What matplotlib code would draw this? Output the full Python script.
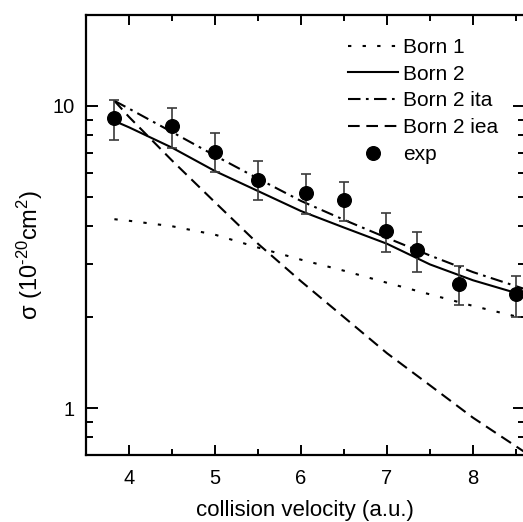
import matplotlib
matplotlib.use("Agg")
import matplotlib.pyplot as plt
from matplotlib.ticker import FixedLocator, MultipleLocator, NullFormatter, FixedFormatter

plt.rcParams['font.family'] = ['Liberation Sans', 'DejaVu Sans']
plt.rcParams['mathtext.fontset'] = 'custom'
plt.rcParams['mathtext.rm'] = 'Liberation Sans'
plt.rcParams['mathtext.it'] = 'Liberation Sans'

# ---- data ----
v_theory = [3.83, 4.0, 4.5, 5.0, 5.5, 6.0, 6.5, 7.0, 7.5, 8.0, 8.6]
born1 = [4.22, 4.17, 4.00, 3.75, 3.40, 3.10, 2.85, 2.60, 2.38, 2.18, 1.98]
born2 = [8.92, 8.50, 7.28, 6.09, 5.23, 4.49, 3.96, 3.50, 2.99, 2.65, 2.36]
born2_ita = [10.4, 9.8, 8.2, 6.85, 5.75, 4.85, 4.20, 3.66, 3.20, 2.82, 2.48]
born2_iea = [10.4, 9.2, 6.6, 4.8, 3.5, 2.63, 2.00, 1.52, 1.19, 0.93, 0.716]

v_exp = [3.83, 4.50, 5.00, 5.50, 6.06, 6.50, 6.99, 7.35, 7.84, 8.50]
sig_exp = [9.1, 8.58, 7.06, 5.71, 5.16, 4.87, 3.87, 3.33, 2.58, 2.38]
err_lo = [1.36, 1.30, 1.02, 0.84, 0.76, 0.72, 0.58, 0.50, 0.38, 0.37]
err_hi = [1.37, 1.30, 1.08, 0.88, 0.78, 0.73, 0.57, 0.50, 0.37, 0.36]

x_ticks = [4, 5, 6, 7, 8]
y_ticks = [1, 10]
y_ticklabels = ['1', '10']

fig = plt.figure(figsize=(5.23, 5.22), dpi=100)
ax = fig.add_axes([86/523, 67/522, 438.6/523, 440/522])

lw = 1.5
ax.plot(v_theory, born1, color='black', lw=lw, linestyle=(0, (1.6, 5.4)), label='Born 1')
ax.plot(v_theory, born2, color='black', lw=lw, linestyle='-', label='Born 2')
ax.plot(v_theory, born2_ita, color='black', lw=lw, linestyle=(0, (6.0, 2.6, 1.3, 2.6)), label='Born 2 ita')
ax.plot(v_theory, born2_iea, color='black', lw=lw, linestyle=(0, (5.6, 3.2)), label='Born 2 iea')
ax.errorbar(v_exp, sig_exp, yerr=[err_lo, err_hi], fmt='none',
            ecolor='#3a3a3a', elinewidth=1.2, capsize=3.5, capthick=1.2)
ax.plot(v_exp, sig_exp, 'o', color='black', ms=9.8, label='exp')

ax.set_yscale('log')
ax.set_xlim(3.5, 8.6)
ax.set_ylim(0.7, 20)

ax.xaxis.set_major_locator(FixedLocator(x_ticks))
ax.xaxis.set_minor_locator(MultipleLocator(0.5))
ax.yaxis.set_major_locator(FixedLocator(y_ticks))
ax.yaxis.set_major_formatter(FixedFormatter(y_ticklabels))
ax.yaxis.set_minor_locator(FixedLocator([0.7, 0.8, 0.9, 2, 3, 4, 5, 6, 7, 8, 9]))
ax.yaxis.set_minor_formatter(NullFormatter())

for s in ax.spines.values():
    s.set_linewidth(1.6)

ax.tick_params(axis='both', which='both', direction='in', top=True, right=True,
               labelsize=14.5, width=1.4)
ax.tick_params(axis='y', which='major', length=8.5, pad=8)
ax.tick_params(axis='y', which='minor', length=5)
ax.tick_params(axis='x', which='major', length=7, pad=10)
ax.tick_params(axis='x', which='minor', length=4.5)

fig.text(305/523, 1 - 516/522, 'collision velocity (a.u.)', ha='center', va='baseline',
         fontsize=16)
fig.text(30/523, 1 - 255/522, r'σ (10$^{\text{-20}}$cm$^{2}$)', rotation=90,
         ha='center', va='center', fontsize=17)

leg = ax.legend(loc='upper left', bbox_to_anchor=((348-86)/438.6, (455-38)/440),
                frameon=False, fontsize=15, handlelength=2.4, handletextpad=0.24,
                labelspacing=0.37, borderpad=0, borderaxespad=0)

fig.savefig('out.png', dpi=100)
